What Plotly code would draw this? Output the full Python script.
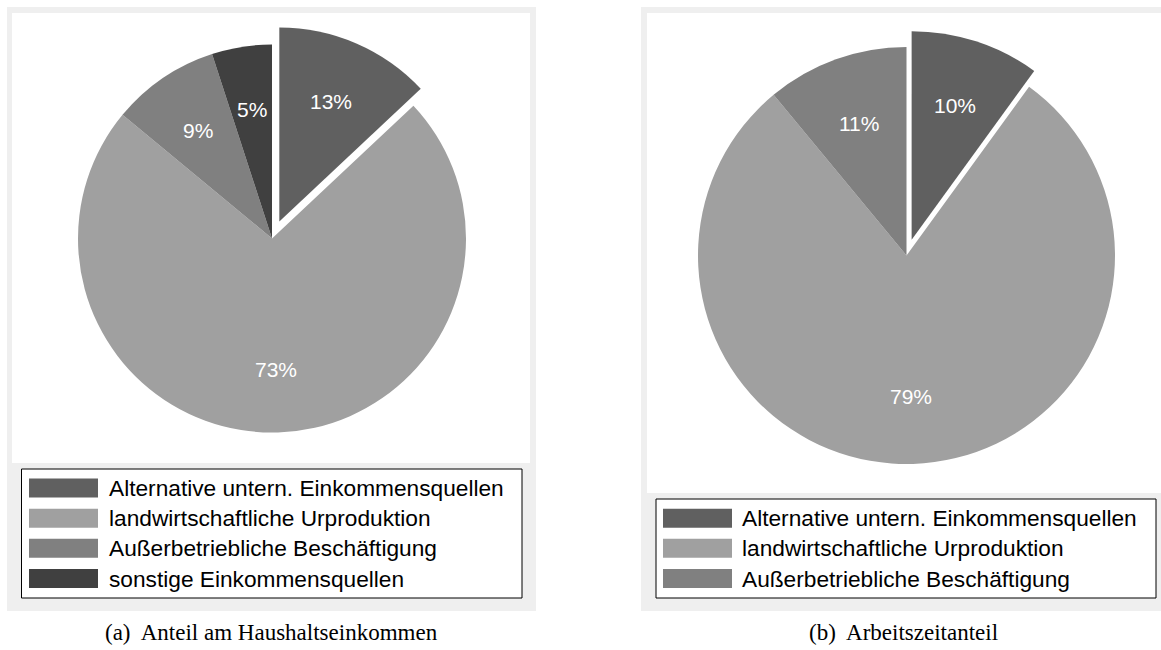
import math
import plotly.graph_objects as go

W, H = 1161, 650

# ---------------- data ----------------
labels_a = ["Alternative untern. Einkommensquellen",
            "landwirtschaftliche Urproduktion",
            "Außerbetriebliche Beschäftigung",
            "sonstige Einkommensquellen"]
values_a = [13, 73, 9, 5]
colors_a = ["#606060", "#a0a0a0", "#808080", "#404040"]
pull_a = [0.095, 0, 0, 0]

labels_b = ["Alternative untern. Einkommensquellen",
            "landwirtschaftliche Urproduktion",
            "Außerbetriebliche Beschäftigung"]
values_b = [10, 79, 11]
colors_b = ["#606060", "#a0a0a0", "#808080"]
pull_b = [0.08, 0, 0]

caption_a = "(a)  Anteil am Haushaltseinkommen"
caption_b = "(b)  Arbeitszeitanteil"

# ---------------- layout geometry (pixels) ----------------
pie_a = dict(cx=272, cy=238.5, r=194)
pie_b = dict(cx=906.5, cy=255.5, r=208.5)
panel_a = dict(gray=(7, 7, 536, 611), white=(12, 13, 530, 463),
               legend=(21.5, 469, 522, 598), sw_x=(29, 98), txt_x=107,
               rows=[488, 518.3, 548.3, 578.5], cap=(271, 632))
panel_b = dict(gray=(641, 7, 1161, 611), white=(647, 13, 1161, 493),
               legend=(656, 499, 1156, 598), sw_x=(663, 732), txt_x=740,
               rows=[518.3, 548.3, 578.5], cap=(903, 632))

SANS = "Liberation Sans, Arial, sans-serif"
SERIF = "Liberation Serif, Times New Roman, serif"
LABEL_FRAC = 0.675


def px(x):
    return x / W


def py(y):
    return 1 - y / H


def pie_domain(p, pulls):
    half = p["r"] * (1 + max(pulls))
    return dict(x=[px(p["cx"] - half), px(p["cx"] + half)],
                y=[py(p["cy"] + half), py(p["cy"] - half)])


fig = go.Figure()
fig.add_trace(go.Pie(labels=labels_a, values=values_a, sort=False,
                     direction="clockwise", rotation=0, pull=pull_a,
                     marker=dict(colors=colors_a, line=dict(width=0)),
                     textinfo="none", hoverinfo="label+percent",
                     showlegend=False, domain=pie_domain(pie_a, pull_a)))
fig.add_trace(go.Pie(labels=labels_b, values=values_b, sort=False,
                     direction="clockwise", rotation=0, pull=pull_b,
                     marker=dict(colors=colors_b, line=dict(width=0)),
                     textinfo="none", hoverinfo="label+percent",
                     showlegend=False, domain=pie_domain(pie_b, pull_b)))

shapes = []
annotations = []


def rect(box, fill, line_color=None, line_width=0):
    x0, y0, x1, y1 = box
    shapes.append(dict(type="rect", xref="paper", yref="paper",
                       x0=px(x0), x1=px(x1), y0=py(y1), y1=py(y0),
                       fillcolor=fill, layer="below",
                       line=dict(color=line_color or fill, width=line_width)))


def percent_labels(p, values, pulls):
    tot = sum(values)
    start = 0.0
    for v, pl in zip(values, pulls):
        frac = v / tot
        mid = (start + frac / 2) * 2 * math.pi
        start += frac
        dist = p["r"] * (LABEL_FRAC + pl)
        x = p["cx"] + dist * math.sin(mid)
        y = p["cy"] - dist * math.cos(mid)
        annotations.append(dict(xref="paper", yref="paper", x=px(x), y=py(y),
                                xanchor="center", yanchor="middle",
                                text=f"{round(frac * 100)}%", showarrow=False,
                                font=dict(family=SANS, size=21, color="white")))


def panel(pn, labels, colors, caption):
    rect(pn["gray"], "#efefef")
    rect(pn["white"], "#ffffff")
    rect(pn["legend"], "#ffffff", "#000000", 1)
    for lab, col, yc in zip(labels, colors, pn["rows"]):
        rect((pn["sw_x"][0], yc - 9.5, pn["sw_x"][1], yc + 9.5), col)
        annotations.append(dict(xref="paper", yref="paper",
                                x=px(pn["txt_x"]), y=py(yc),
                                xanchor="left", yanchor="middle",
                                text=lab, showarrow=False,
                                font=dict(family=SANS, size=22.7, color="black")))
    annotations.append(dict(xref="paper", yref="paper",
                            x=px(pn["cap"][0]), y=py(pn["cap"][1]),
                            xanchor="center", yanchor="middle",
                            text=caption, showarrow=False,
                            font=dict(family=SERIF, size=23, color="black")))


panel(panel_a, labels_a, colors_a, caption_a)
panel(panel_b, labels_b, colors_b, caption_b)
percent_labels(pie_a, values_a, pull_a)
percent_labels(pie_b, values_b, pull_b)

fig.update_layout(width=W, height=H, margin=dict(l=0, r=0, t=0, b=0),
                  paper_bgcolor="white", plot_bgcolor="white",
                  shapes=shapes, annotations=annotations, showlegend=False)

fig.write_html("out.html",
               config={"displayModeBar": False},
               post_script="document.body.style.margin='0';"
                           "document.body.style.overflow='hidden';")
